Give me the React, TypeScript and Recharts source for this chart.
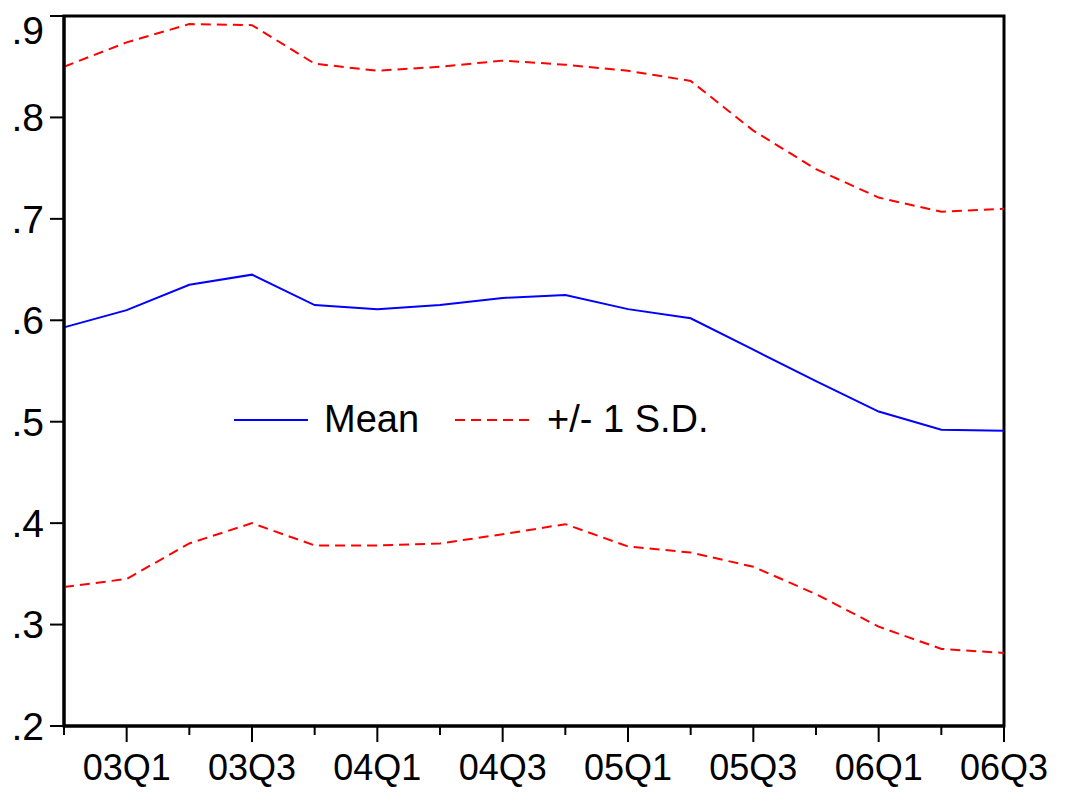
import { LineChart, Line, XAxis, YAxis, ReferenceArea, Legend } from 'recharts';

const quarters = ['02Q4', '03Q1', '03Q2', '03Q3', '03Q4', '04Q1', '04Q2', '04Q3', '04Q4', '05Q1', '05Q2', '05Q3', '05Q4', '06Q1', '06Q2', '06Q3'];
const meanValues = [0.593, 0.61, 0.635, 0.645, 0.615, 0.611, 0.615, 0.622, 0.625, 0.611, 0.602, 0.571, 0.54, 0.51, 0.492, 0.491];
const upperValues = [0.85, 0.874, 0.892, 0.891, 0.853, 0.846, 0.85, 0.856, 0.852, 0.846, 0.836, 0.787, 0.749, 0.721, 0.707, 0.71];
const lowerValues = [0.337, 0.345, 0.38, 0.4, 0.378, 0.378, 0.38, 0.389, 0.399, 0.377, 0.371, 0.357, 0.33, 0.298, 0.276, 0.272];
const yTicks = [0.2, 0.3, 0.4, 0.5, 0.6, 0.7, 0.8, 0.9];

const data = quarters.map((q, i) => ({
    q,
    mean: meanValues[i],
    upper: upperValues[i],
    lower: lowerValues[i],
}));

const FONT = '"Liberation Sans", Arial, Helvetica, sans-serif';

const QuarterTick = (props: any) => {
    const { x, y, payload } = props;
    const label: string = payload.value;
    const major = label.endsWith('Q1') || label.endsWith('Q3');
    return (
        <g>
            <line x1={x} x2={x} y1={y} y2={y + (major ? 16 : 9)} stroke="#000" strokeWidth={2} />
            {major && (
                <text x={x} y={y + 54} textAnchor="middle" fontSize={36} fontFamily={FONT} fill="#000">
                    {label}
                </text>
            )}
        </g>
    );
};

const LegendBox = () => (
    <div style={{ display: 'flex', alignItems: 'center', fontFamily: FONT, fontSize: 38, color: '#000', whiteSpace: 'nowrap' }}>
        <svg width={74} height={6} style={{ marginRight: 16 }}>
            <line x1={0} x2={74} y1={3} y2={3} stroke="#0000ff" strokeWidth={2} />
        </svg>
        <span style={{ marginRight: 36 }}>Mean</span>
        <svg width={74} height={6} style={{ marginRight: 18 }}>
            <line x1={0} x2={74} y1={3} y2={3} stroke="#ff0000" strokeWidth={2} strokeDasharray="10 6" />
        </svg>
        <span>+/- 1 S.D.</span>
    </div>
);

export default function App() {
    return (
        <LineChart width={1050} height={779} data={data} margin={{ top: 8, right: 54, bottom: 0, left: 0 }}>
            <XAxis
                dataKey="q"
                interval={0}
                height={61}
                tickSize={0}
                tickMargin={0}
                tickLine={false}
                axisLine={{ stroke: '#000', strokeWidth: 3 }}
                tick={<QuarterTick />}
            />
            <YAxis
                type="number"
                domain={[0.2, 0.9]}
                ticks={yTicks}
                width={56}
                tickSize={14}
                tickMargin={6}
                axisLine={{ stroke: '#000', strokeWidth: 3 }}
                tickLine={{ stroke: '#000', strokeWidth: 2 }}
                tickFormatter={(v: number) => v.toFixed(1).replace(/^0/, '')}
                tick={{ fontSize: 39, fontFamily: FONT, fill: '#000' }}
            />
            <ReferenceArea x1={quarters[0]} x2={quarters[quarters.length - 1]} y1={0.2} y2={0.9} fill="none" stroke="#000" strokeWidth={3} />
            <Legend
                layout="horizontal"
                verticalAlign="middle"
                content={<LegendBox />}
                wrapperStyle={{ left: 226, top: 390, width: 'auto' }}
            />
            <Line dataKey="mean" stroke="#0000ff" strokeWidth={2} dot={false} isAnimationActive={false} />
            <Line dataKey="upper" stroke="#ff0000" strokeWidth={2} strokeDasharray="10 6" dot={false} isAnimationActive={false} />
            <Line dataKey="lower" stroke="#ff0000" strokeWidth={2} strokeDasharray="10 6" dot={false} isAnimationActive={false} />
        </LineChart>
    );
}
